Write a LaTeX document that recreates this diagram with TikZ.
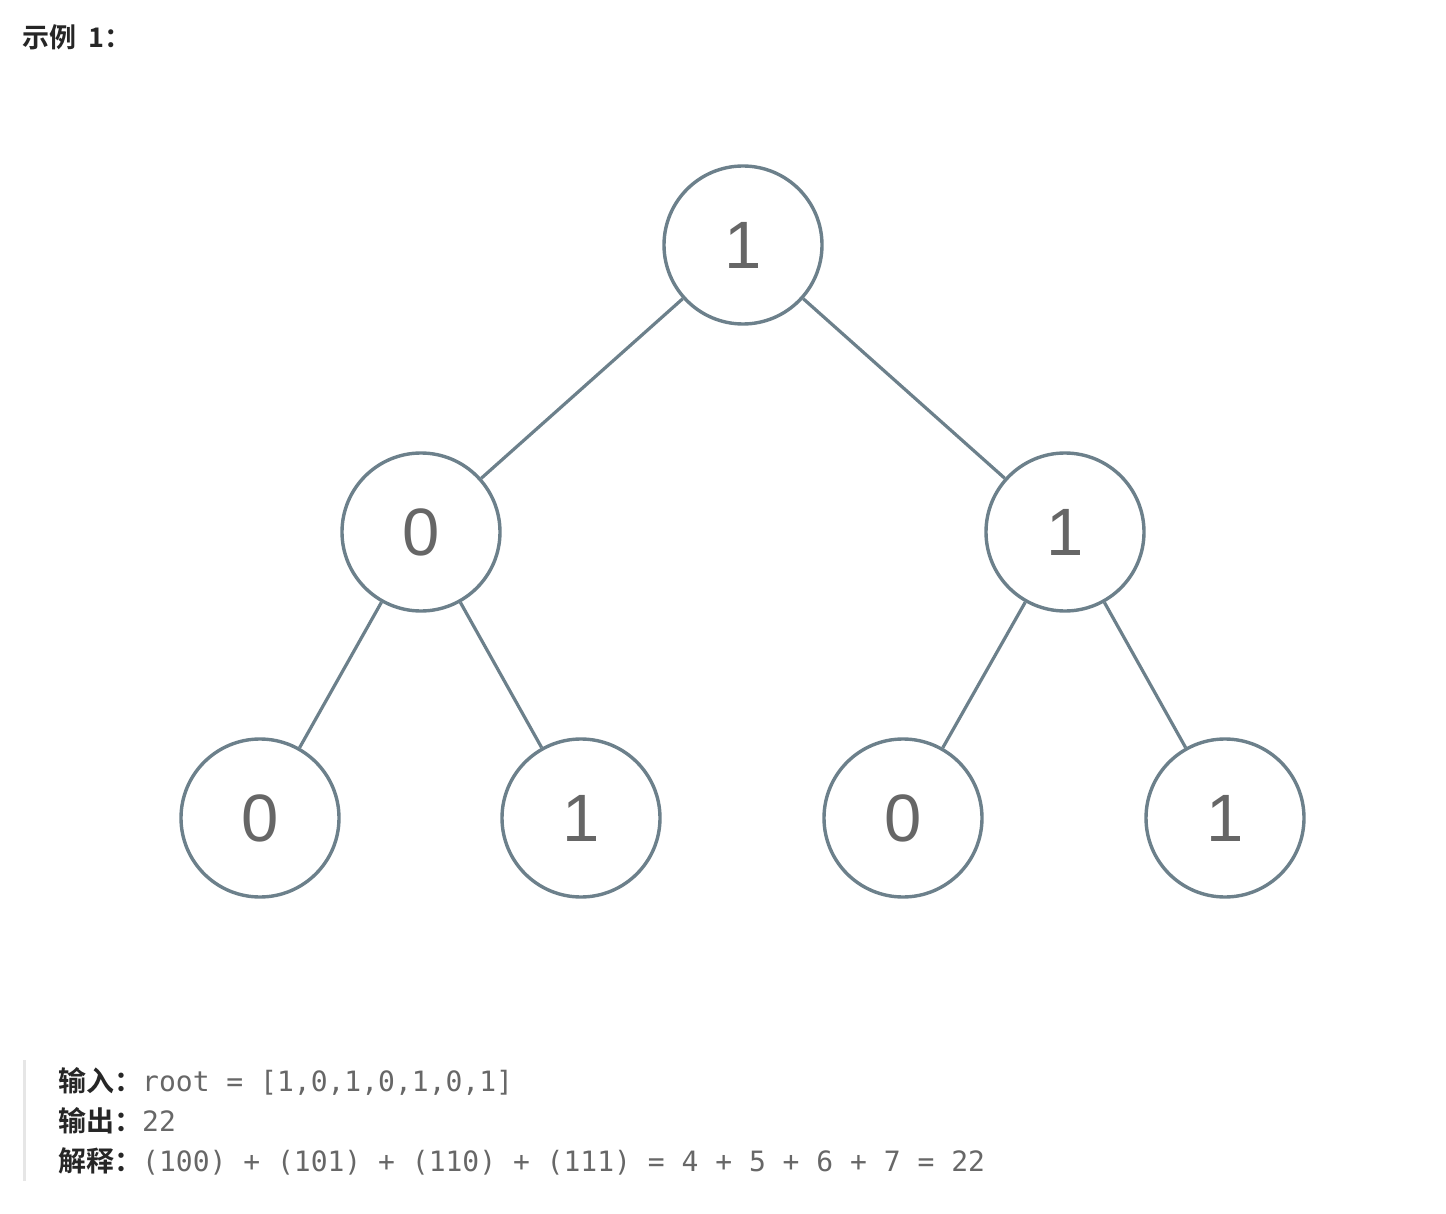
\documentclass[tikz,border=0pt]{standalone}
\usepackage{fontspec}
\setmainfont{Liberation Sans}
\newfontfamily\cjkbold{Noto Sans CJK SC Bold}
\newfontfamily\codefont{DejaVu Sans Mono}
\definecolor{edgecol}{HTML}{6C808B}
\definecolor{digitcol}{HTML}{666666}
\definecolor{codecol}{HTML}{676767}
\definecolor{titlecol}{HTML}{262626}
\definecolor{barcol}{HTML}{E6E6E6}
\tikzset{
  treenode/.style={circle, draw=edgecol, line width=3.4pt, fill=white, minimum size=158pt, inner sep=0pt,
    text=digitcol, font=\fontsize{67}{67}\selectfont},
  treeedge/.style={draw=edgecol, line width=3.2pt},
  codeline/.style={anchor=base west, inner sep=0pt, font=\fontsize{28}{34}\selectfont, text=codecol},
}
\begin{document}
\begin{tikzpicture}[x=1pt,y=-1pt]
\useasboundingbox[fill=white] (0,0) rectangle (1446,1214);
% title
\node[anchor=base west, inner sep=0pt, text=titlecol, font=\fontsize{27}{32}\selectfont] (title) at (22,48) {\cjkbold 示例\hspace{12pt}1\hspace{0pt}：};
% tree
\node[treenode] (r) at (743,245) {1};
\node[treenode] (a) at (421,532) {0};
\node[treenode] (b) at (1065,532) {1};
\node[treenode] (aa) at (260,818) {0};
\node[treenode] (ab) at (581,818) {1};
\node[treenode] (ba) at (903,818) {0};
\node[treenode] (bb) at (1225,818) {1};
\draw[treeedge] (r) -- (a);
\draw[treeedge] (r) -- (b);
\draw[treeedge] (a) -- (aa);
\draw[treeedge] (a) -- (ab);
\draw[treeedge] (b) -- (ba);
\draw[treeedge] (b) -- (bb);
% quote bar
\coordinate (bartop) at (24,1060);
\coordinate (barbot) at (24,1181);
\draw[barcol, line width=3pt] (bartop) -- (barbot);
% code lines
\node[codeline] (l1) at (58,1091) {{\cjkbold\color{titlecol}输入：}{\codefont root = [1,0,1,0,1,0,1]}};
\node[codeline] (l2) at (58,1131) {{\cjkbold\color{titlecol}输出：}{\codefont 22}};
\node[codeline] (l3) at (58,1171) {{\cjkbold\color{titlecol}解释：}{\codefont (100) + (101) + (110) + (111) = 4 + 5 + 6 + 7 = 22}};
\end{tikzpicture}
\end{document}
